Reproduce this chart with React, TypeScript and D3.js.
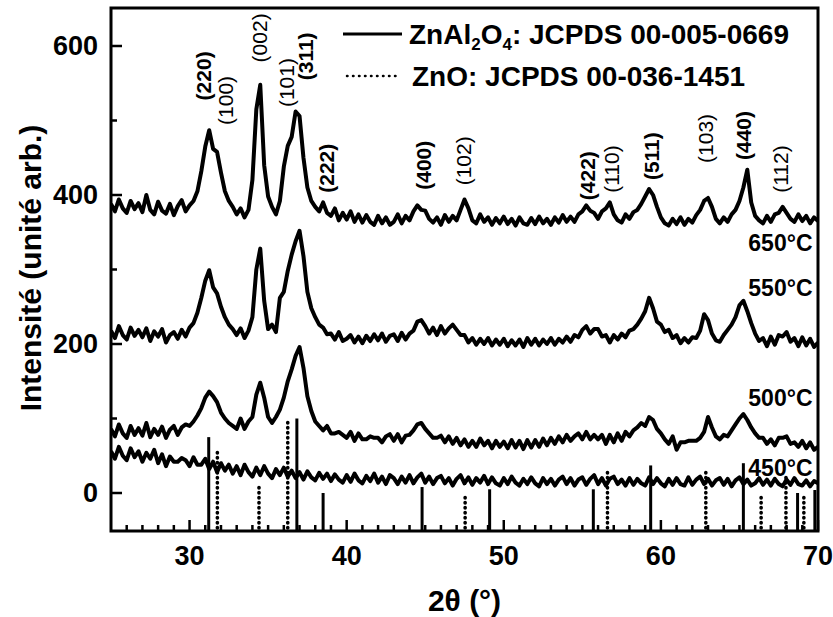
import React from 'react';
import * as d3 from 'd3';

// 2θ grid: first angle and step of the recorded patterns
const START_ANGLE = 25;
const STEP_ANGLE = 0.25;

// Intensity (arb. units) per pattern, one row per degree (x.00, x.25, x.50, x.75)
const s650 = [
  388, 378, 394, 382, // 25
  376, 392, 381, 389, // 26
  377, 400, 380, 374, // 27
  391, 379, 375, 388, // 28
  373, 385, 393, 378, // 29
  386, 392, 405, 432, // 30
  465, 487, 462, 458, // 31
  430, 405, 392, 384, // 32
  374, 382, 370, 380, // 33
  420, 515, 548, 440, // 34
  398, 384, 374, 392, // 35
  438, 466, 478, 512, // 36
  506, 450, 410, 392, // 37
  384, 378, 390, 376, // 38
  372, 382, 366, 376, // 39
  367, 378, 364, 374, // 40
  363, 373, 364, 360, // 41
  372, 362, 370, 360, // 42
  364, 374, 362, 372, // 43
  366, 378, 386, 380, // 44
  379, 368, 363, 370, // 45
  360, 373, 364, 372, // 46
  366, 380, 394, 382, // 47
  366, 362, 374, 364, // 48
  370, 360, 369, 362, // 49
  371, 361, 368, 359, // 50
  370, 362, 360, 369, // 51
  361, 371, 362, 368, // 52
  360, 370, 363, 373, // 53
  364, 371, 364, 374, // 54
  378, 386, 379, 376, // 55
  368, 378, 382, 390, // 56
  374, 366, 363, 374, // 57
  368, 377, 380, 388, // 58
  398, 408, 400, 384, // 59
  370, 362, 359, 368, // 60
  361, 370, 360, 368, // 61
  363, 373, 380, 392, // 62
  396, 384, 368, 362, // 63
  370, 364, 374, 380, // 64
  392, 410, 434, 390, // 65
  372, 366, 362, 372, // 66
  364, 374, 376, 384, // 67
  376, 368, 364, 374, // 68
  365, 372, 362, 370, // 69
  365,                // 70
];

const s550 = [
  218, 208, 224, 212, // 25
  206, 222, 211, 219, // 26
  209, 221, 204, 217, // 27
  210, 220, 202, 212, // 28
  216, 207, 219, 210, // 29
  222, 228, 242, 262, // 30
  285, 299, 276, 268, // 31
  250, 236, 226, 220, // 32
  212, 221, 208, 218, // 33
  236, 300, 328, 258, // 34
  220, 226, 216, 262, // 35
  270, 298, 320, 338, // 36
  352, 318, 270, 248, // 37
  236, 226, 222, 213, // 38
  214, 206, 216, 204, // 39
  207, 212, 202, 210, // 40
  201, 211, 204, 213, // 41
  205, 214, 203, 211, // 42
  213, 204, 215, 206, // 43
  214, 218, 230, 232, // 44
  224, 214, 222, 212, // 45
  224, 214, 221, 226, // 46
  219, 212, 212, 202, // 47
  208, 199, 207, 200, // 48
  208, 198, 206, 199, // 49
  207, 197, 205, 198, // 50
  206, 196, 208, 199, // 51
  207, 198, 206, 200, // 52
  208, 199, 207, 202, // 53
  210, 203, 212, 209, // 54
  219, 224, 214, 220, // 55
  220, 210, 212, 202, // 56
  212, 206, 214, 209, // 57
  218, 220, 226, 234, // 58
  244, 262, 248, 230, // 59
  226, 216, 219, 208, // 60
  212, 201, 208, 202, // 61
  209, 208, 218, 240, // 62
  232, 214, 205, 203, // 63
  212, 219, 226, 236, // 64
  252, 258, 244, 228, // 65
  214, 204, 208, 197, // 66
  210, 199, 212, 210, // 67
  216, 203, 208, 197, // 68
  209, 198, 207, 196, // 69
  202,                // 70
];

const s500 = [
  86, 76, 92, 80,     // 25
  74, 90, 78, 87,     // 26
  77, 94, 75, 86,     // 27
  78, 89, 74, 85,     // 28
  90, 78, 88, 92,     // 29
  90, 96, 104, 114,   // 30
  128, 136, 130, 122, // 31
  108, 100, 94, 90,   // 32
  86, 100, 86, 96,    // 33
  102, 132, 148, 128, // 34
  102, 94, 102, 112,  // 35
  128, 150, 166, 184, // 36
  196, 168, 130, 110, // 37
  96, 90, 84, 90,     // 38
  80, 80, 82, 78,     // 39
  74, 82, 70, 80,     // 40
  72, 72, 76, 74,     // 41
  74, 68, 76, 79,     // 42
  70, 79, 68, 77,     // 43
  78, 84, 92, 94,     // 44
  86, 80, 74, 74,     // 45
  77, 68, 76, 66,     // 46
  74, 64, 72, 62,     // 47
  70, 62, 73, 64,     // 48
  70, 60, 70, 62,     // 49
  69, 60, 71, 61,     // 50
  70, 59, 71, 61,     // 51
  71, 62, 73, 64,     // 52
  74, 66, 76, 68,     // 53
  78, 70, 76, 80,     // 54
  72, 82, 72, 78,     // 55
  72, 78, 66, 78,     // 56
  68, 80, 70, 82,     // 57
  76, 84, 88, 94,     // 58
  90, 102, 98, 86,    // 59
  80, 72, 66, 76,     // 60
  58, 68, 68, 70,     // 61
  70, 70, 74, 82,     // 62
  102, 88, 76, 72,    // 63
  78, 76, 84, 92,     // 64
  100, 106, 98, 88,   // 65
  80, 74, 74, 66,     // 66
  72, 64, 74, 74,     // 67
  76, 66, 68, 62,     // 68
  70, 60, 68, 58,     // 69
  62,                 // 70
];

const s450 = [
  56, 46, 62, 50, // 25
  44, 60, 48, 56, // 26
  42, 54, 46, 58, // 27
  40, 52, 36, 49, // 28
  42, 42, 47, 44, // 29
  36, 48, 38, 38, // 30
  46, 32, 42, 28, // 31
  40, 30, 38, 26, // 32
  36, 24, 38, 28, // 33
  22, 34, 24, 36, // 34
  26, 20, 32, 24, // 35
  34, 22, 30, 20, // 36
  28, 18, 29, 21, // 37
  17, 27, 19, 26, // 38
  16, 25, 18, 14, // 39
  24, 15, 26, 17, // 40
  13, 23, 16, 26, // 41
  14, 22, 12, 24, // 42
  20, 12, 22, 14, // 43
  24, 13, 21, 26, // 44
  14, 22, 12, 20, // 45
  23, 13, 20, 10, // 46
  19, 24, 13, 21, // 47
  11, 20, 14, 23, // 48
  12, 21, 13, 10, // 49
  20, 12, 22, 14, // 50
  10, 19, 12, 21, // 51
  13, 9, 20, 12,  // 52
  19, 10, 18, 22, // 53
  12, 20, 10, 18, // 54
  21, 11, 19, 24, // 55
  12, 20, 10, 19, // 56
  22, 12, 18, 10, // 57
  20, 11, 19, 13, // 58
  10, 21, 12, 20, // 59
  13, 9, 19, 11,  // 60
  20, 12, 10, 21, // 61
  11, 18, 22, 12, // 62
  19, 10, 17, 20, // 63
  11, 19, 9, 17,  // 64
  21, 12, 18, 10, // 65
  13, 20, 11, 18, // 66
  10, 19, 12, 9,  // 67
  18, 11, 20, 12, // 68
  10, 17, 9, 16,  // 69
  13,             // 70
];

const seriesList = [s650, s550, s500, s450];
const seriesNames = ['650°C', '550°C', '500°C', '450°C'];
const seriesLabelAngle = [69.65, 69.65, 69.65, 69.65];
const seriesLabelValue = [325, 264, 117, 23];

// JCPDS reference lines
const spinelPos = [31.22, 36.83, 38.5, 44.8, 49.1, 55.7, 59.35, 65.25, 68.7, 69.8];
const spinelTop = [75, 100, 0, 8, 5, 5, 37, 40, 0, 4];
const zincitePos = [31.77, 34.42, 36.25, 47.54, 56.6, 62.86, 66.38, 67.96, 69.1];
const zinciteTop = [55, 10, 100, -5, 33, 28, -5, 24, -5];

// Miller index annotations
const hklText = ['(220)', '(100)', '(002)', '(101)', '(311)', '(222)', '(400)', '(102)', '(422)', '(110)', '(511)', '(103)', '(440)', '(112)'];
const hklSpinel = [true, false, false, false, true, true, true, false, true, false, true, false, true, false];
const hklAngle = [30.86, 32.26, 34.43, 36.15, 37.36, 38.69, 44.87, 47.42, 55.32, 56.85, 59.38, 62.86, 65.25, 67.61];
const hklValue = [527, 494, 578, 518, 554, 403, 407, 413, 393, 403, 420, 443, 447, 403];

const xTicks = [30, 40, 50, 60, 70];
const yTicks = [0, 200, 400, 600];
const yMinorTicks = [100, 300, 500];

const W = 833;
const H = 617;
const M = { left: 111, right: 818, top: 8, bottom: 531 };
const FONT = "'Liberation Sans', Arial, Helvetica, sans-serif";

export default function App() {
  const x = d3.scaleLinear().domain([25, 70]).range([M.left, M.right]);
  const y = d3.scaleLinear().domain([-51, 651]).range([M.bottom, M.top]);
  const line = d3
    .line<number>()
    .x((_, i) => x(START_ANGLE + i * STEP_ANGLE))
    .y((v) => y(v));

  const minorX = d3.range(26, 70, 1).filter((d) => d % 10 !== 0);

  return (
    <div style={{ position: 'absolute', left: 0, top: 0 }}>
      <svg width={W} height={H} viewBox={`0 0 ${W} ${H}`} style={{ display: 'block', background: '#fff' }} fontFamily={FONT}>
        <defs>
          <clipPath id="plot">
            <rect x={M.left} y={M.top} width={M.right - M.left} height={M.bottom - M.top} />
          </clipPath>
        </defs>

        {/* reference sticks */}
        <g clipPath="url(#plot)">
          {spinelPos.map((p, i) => (
            <line key={'s' + i} x1={x(p)} x2={x(p)} y1={y(-51)} y2={y(spinelTop[i])} stroke="#000" strokeWidth={3} />
          ))}
          {zincitePos.map((p, i) => (
            <line
              key={'z' + i}
              x1={x(p)}
              x2={x(p)}
              y1={y(-51) - 3}
              y2={y(zinciteTop[i])}
              stroke="#000"
              strokeWidth={3.6}
              strokeDasharray="0.5 4.5"
              strokeLinecap="round"
            />
          ))}
        </g>

        {/* patterns */}
        <g clipPath="url(#plot)">
          {seriesList.map((s, i) => (
            <path key={i} d={line(s) || ''} fill="none" stroke="#000" strokeWidth={4} strokeLinejoin="round" />
          ))}
        </g>

        {/* series labels */}
        {seriesNames.map((n, i) => (
          <text key={n} x={x(seriesLabelAngle[i])} y={y(seriesLabelValue[i])} textAnchor="end" fontSize={23} fontWeight="bold">
            {n}
          </text>
        ))}

        {/* hkl labels */}
        {hklText.map((t, i) => (
          <text
            key={t}
            transform={`translate(${x(hklAngle[i])},${y(hklValue[i])}) rotate(-90)`}
            dominantBaseline="central"
            fontSize={21}
            fontWeight={hklSpinel[i] ? 'bold' : 'normal'}
          >
            {t}
          </text>
        ))}

        {/* legend */}
        <line x1={343} x2={402} y1={34} y2={34} stroke="#000" strokeWidth={3} />
        <text x={409} y={44} fontSize={28} fontWeight="bold">
          <tspan>ZnAl</tspan>
          <tspan fontSize={17} dy={6}>2</tspan>
          <tspan dy={-6}>O</tspan>
          <tspan fontSize={17} dy={6}>4</tspan>
          <tspan dy={-6}>: JCPDS 00-005-0669</tspan>
        </text>
        <line x1={347} x2={400} y1={76} y2={76} stroke="#000" strokeWidth={2.5} strokeDasharray="0.5 5.5" strokeLinecap="round" />
        <text x={412} y={86} fontSize={28} fontWeight="bold">
          ZnO: JCPDS 00-036-1451
        </text>

        {/* frame */}
        <rect x={M.left} y={M.top} width={M.right - M.left} height={M.bottom - M.top} fill="none" stroke="#000" strokeWidth={3} />

        {/* x ticks */}
        {minorX.map((d) => (
          <line key={'mx' + d} x1={x(d)} x2={x(d)} y1={M.bottom} y2={M.bottom - 6} stroke="#000" strokeWidth={2.5} />
        ))}
        {xTicks.map((d) => (
          <g key={'x' + d}>
            <line x1={x(d)} x2={x(d)} y1={M.bottom} y2={M.bottom - 11} stroke="#000" strokeWidth={2.5} />
            <text x={x(d)} y={M.bottom + 34} textAnchor="middle" fontSize={27} fontWeight="bold">
              {d}
            </text>
          </g>
        ))}

        {/* y ticks */}
        {yMinorTicks.map((d) => (
          <line key={'my' + d} x1={M.left} x2={M.left + 6} y1={y(d)} y2={y(d)} stroke="#000" strokeWidth={2.5} />
        ))}
        {yTicks.map((d) => (
          <g key={'y' + d}>
            <line x1={M.left} x2={M.left + 11} y1={y(d)} y2={y(d)} stroke="#000" strokeWidth={2.5} />
            <text x={M.left - 13} y={y(d)} textAnchor="end" dominantBaseline="central" fontSize={27} fontWeight="bold">
              {d}
            </text>
          </g>
        ))}

        {/* axis titles */}
        <text x={(M.left + M.right) / 2} y={611} textAnchor="middle" fontSize={30} fontWeight="bold">
          2θ (°)
        </text>
        <text transform={`translate(30,${268}) rotate(-90)`} textAnchor="middle" dominantBaseline="central" fontSize={30} fontWeight="bold">
          Intensité (unité arb.)
        </text>
      </svg>
    </div>
  );
}
